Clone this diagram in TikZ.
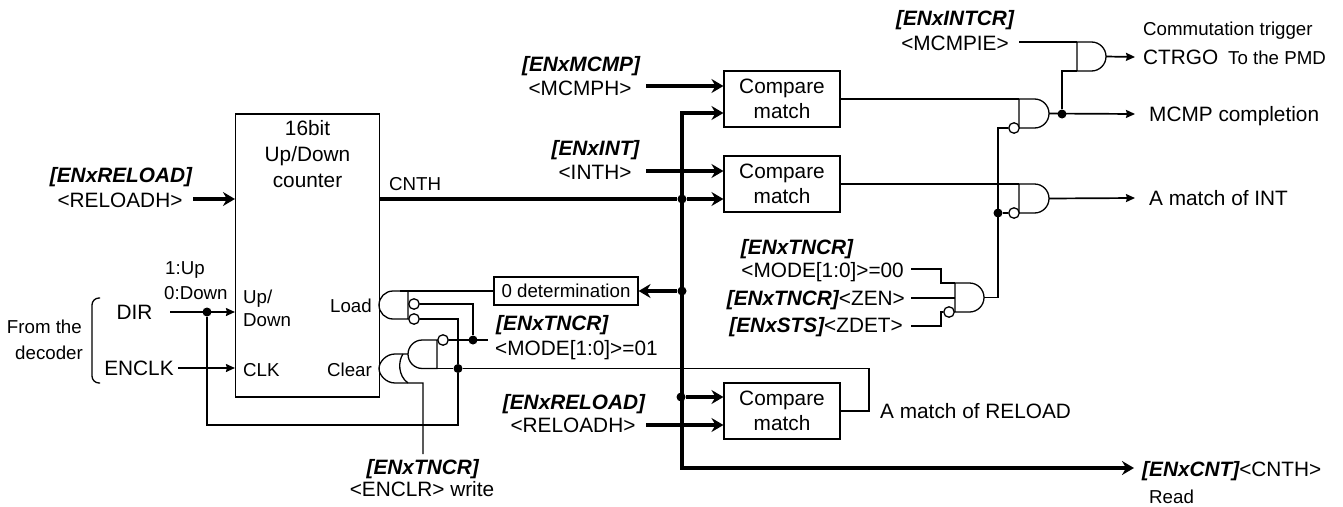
\documentclass[tikz,border=0pt]{standalone}
\usepackage{fontspec}
\setmainfont{Liberation Sans}
\usetikzlibrary{arrows.meta}
\newcommand{\fbig}{\fontsize{20.8}{25}\selectfont}
\newcommand{\fsm}{\fontsize{18.7}{22}\selectfont}
\newcommand{\bi}[1]{{\bfseries\itshape #1}}
% straight side x, top, bottom, nose x (right or left facing)
\newcommand{\andgate}[4]{%
  \pgfmathsetmacro{\gm}{(#2+#3)/2}\pgfmathsetmacro{\gr}{(#3-#2)/2}%
  \pgfmathsetmacro{\gd}{(#4>#1)?1:-1}%
  \pgfmathsetmacro{\gf}{#4-\gd*\gr}\pgfmathsetmacro{\gk}{#4-\gd*\gr*0.45}%
  \draw[gate] (#1,#2) -- (\gf,#2) .. controls (\gk,#2) and (#4,\gm-\gr*0.55) .. (#4,\gm)
     .. controls (#4,\gm+\gr*0.55) and (\gk,#3) .. (\gf,#3) -- (#1,#3) -- cycle;}
\tikzset{
 x=1pt,y=-1pt,
 gate/.style={line width=1.3pt},
 wire/.style={line width=1.3pt},
 wirem/.style={line width=1.7pt},
 bus/.style={line width=3.6pt},
 arr/.style={wirem,-{Stealth[length=9pt,width=8pt,inset=1pt]}},
 busarr/.style={bus,-{Stealth[length=12pt,width=14pt,inset=4pt]}},
 dot/.style={circle,fill=black,inner sep=0pt,minimum size=9pt},
 bub/.style={circle,draw,fill=white,line width=1.3pt,inner sep=0pt,minimum size=10.5pt},
 blk/.style={draw,line width=1.1pt,fill=white,inner sep=0pt,align=center},
 lbl/.style={inner sep=0pt,font=\fbig,text height=15pt,text depth=0pt},
 sm/.style={inner sep=0pt,font=\fsm,text height=13.4pt,text depth=0pt},
}
\begin{document}
\begin{tikzpicture}
\useasboundingbox (0,0) rectangle (1343,506);
% blocks
\node[blk,minimum width=144pt,minimum height=283pt] (cnt) at (307.5,255.5) {};
\node[blk,minimum width=116pt,minimum height=56pt,font=\fbig] (c1) at (782,99) {Compare\\match};
\node[blk,minimum width=116pt,minimum height=56pt,font=\fbig] (c2) at (782,184) {Compare\\match};
\node[blk,minimum width=116pt,minimum height=56pt,font=\fbig] (c3) at (782,411) {Compare\\match};
\node[blk,minimum width=144pt,minimum height=28pt,font=\fsm] (z) at (566,291) {0 determination};
% junctions
\node[dot] (jdir) at (207,312) {};
\node[dot] (jcnth) at (682,199) {};
\node[dot] (jz) at (682,291) {};
\node[dot] (jr) at (681,397) {};
\node[dot] (jm) at (473,340) {};
\node[dot] (jc) at (458,368.5) {};
\node[dot] (jo) at (1062,114) {};
\node[dot] (jq) at (998,213) {};
% free ends and corners
\coordinate (dirS) at (170,312);
\coordinate (encS) at (178,368);
\coordinate (relS) at (193,199);
\coordinate (mhS) at (646,86);
\coordinate (ihS) at (646,171);
\coordinate (rhS) at (646,425);
\coordinate (busT) at (682,113);
\coordinate (busB) at (682,468);
\coordinate (cntE) at (1134,468);
\coordinate (modeE) at (488,340);
\coordinate (wrE) at (423,454);
\coordinate (ieS) at (1019,42);
\coordinate (low) at (207,425);
\coordinate (rr) at (869,368.5);
\coordinate (mcE) at (1135,114);
\coordinate (ctE) at (1135,57);
\coordinate (intE) at (1135,198);
\coordinate (g1b) at (1077,71);
% gates' output / input points
\coordinate (o1) at (1106,56.5);
\coordinate (o2) at (1049,113.5);
\coordinate (o3) at (1049,198.5);
\coordinate (o4) at (984,297.5);
\coordinate (g2a) at (1019,99);
\coordinate (g3a) at (1019,184);
\coordinate (lt) at (400,291);
% gates
\andgate{1077}{42}{71}{1106}
\andgate{1019}{99}{128}{1049}
\andgate{1019}{184}{213}{1049}
\andgate{955}{283}{312}{984}
\andgate{408}{291}{319}{379}
\andgate{437}{340}{368.5}{408}
% OR gate
\draw[gate] (408,354) -- (395,354) .. controls (386,354) and (379,362) .. (379,368.5)
   .. controls (379,375) and (386,383) .. (395,383) -- (423,383) -- (wrE);
\draw[gate] (403,354) .. controls (398,361) and (398,376) .. (408,383);
% bubbles
\node[bub] (b2) at (1014,128) {};
\node[bub] (b3) at (1014,213) {};
\node[bub] (b4) at (949,312) {};
\node[bub] (b5) at (414,304) {};
\node[bub] (b6) at (414,319) {};
\node[bub] (b7) at (443,340) {};
% connectors
\draw[arr] (dirS) -- (dirS -| cnt.west);
\draw[arr] (encS) -- (encS -| cnt.west);
\draw[busarr] (relS) -- (relS -| cnt.west) ;
\draw[bus] (jcnth -| cnt.east) -- (jcnth);
\draw[busarr] (jcnth) -- (jcnth -| c2.west);
\draw[busarr] (mhS) -- (mhS -| c1.west);
\draw[busarr] (ihS) -- (ihS -| c2.west);
\draw[busarr] (rhS) -- (rhS -| c3.west);
\draw[busarr] (busB) -- (cntE);
\draw[bus,line join=miter,line cap=rect] (busB) -- (busT);
\draw[busarr] (busT) -- (busT -| c1.west);
\draw[busarr] (jz) -- (z.east);
\draw[busarr] (jr) -- (jr -| c3.west);
\draw[wire] (g2a -| c1.east) -- (g2a);
\draw[wire] (g3a -| c2.east) -- (g3a);
\draw[arr] (o2) -- (mcE);
\draw[arr] (o3) -- (intE);
\draw[arr] (o1) -- (ctE);
\draw[wirem] (jo) |- (g1b);
\draw[wire] (ieS) -- (1077,42);
\draw[wirem] (b2.west) -| (o4 -| jq) -- (o4);
\draw[wire] (jq) -- (b3.west);
\draw[wire] (lt) -- (z.west);
\draw[wirem] (b5.east) -| (jm);
\draw[wire] (b7.east) -- (modeE);
\draw[wirem] (b6.east) -| (jc);
\draw[wirem] (jc) |- (low) -- (jdir);
\draw[wirem] (437,368.5) -- (jc);
\draw[wire] (jc) -- (rr) |- (c3.east);
\coordinate (i1) at (911,269); \coordinate (i2) at (911,298); \coordinate (i3) at (911,326);
\draw[wire] (i1) -- (941,269) -- (941,283) -- (955,283);
\draw[wire] (i2) -- (955,298);
\draw[wire] (i3) -- (941,326) -- (941,312) -- (b4.west);
% brace
\draw[wire,rounded corners=7pt] (100,298) -- (92,298) -- (92,383) -- (100,383);
% counter text
\node[lbl] (t1) at (307.5,127.5) {16bit};
\node[lbl] (t2) at (307.5,153.5) {Up/Down};
\node[lbl] (t3) at (307.5,179.5) {counter};
\node[sm,anchor=west] (tcnth) at (389,184) {CNTH};
\node[sm,anchor=west] (tu) at (243,296.5) {Up/};
\node[sm,anchor=west] (td) at (243,319.5) {Down};
\node[sm,anchor=west] (tclk) at (243,370) {CLK};
\node[sm,anchor=east] (tload) at (372,306) {Load};
\node[sm,anchor=east] (tclear) at (372,370) {Clear};
% labels
\node[lbl] (l1a) at (121,175) {\bi{[ENxRELOAD]}};
\node[lbl] (l1b) at (120,200) {<RELOADH>};
\node[lbl] (l2a) at (581,64) {\bi{[ENxMCMP]}};
\node[lbl] (l2b) at (580,88) {<MCMPH>};
\node[lbl] (l3a) at (595.5,148) {\bi{[ENxINT]}};
\node[lbl] (l3b) at (595,172) {<INTH>};
\node[lbl] (l4a) at (574,402) {\bi{[ENxRELOAD]}};
\node[lbl] (l4b) at (573,425) {<RELOADH>};
\node[lbl,anchor=west] (l5a) at (496,323) {\bi{[ENxTNCR]}};
\node[lbl,anchor=west] (l5b) at (495,348) {<MODE[1:0]>=01};
\node[lbl] (l6a) at (422.7,466.7) {\bi{[ENxTNCR]}};
\node[lbl] (l6b) at (422,489) {<ENCLR> write};
\node[lbl] (l8) at (797,247) {\bi{[ENxTNCR]}};
\node[lbl,anchor=east] (l9) at (904,270) {<MODE[1:0]>=00};
\node[lbl,anchor=east] (l10) at (905,298) {\bi{[ENxTNCR]}<ZEN>};
\node[lbl,anchor=east] (l11) at (903,325) {\bi{[ENxSTS]}<ZDET>};
\node[lbl] (l12a) at (955,18) {\bi{[ENxINTCR]}};
\node[lbl] (l12b) at (955,43) {<MCMPIE>};
\node[sm,anchor=west] (s1) at (1143,29) {Commutation trigger};
\node[lbl,anchor=west] (ctr) at (1143,57) {CTRGO};
\node[sm,anchor=west] (pmd) at (1228,58) {To the PMD};
\node[lbl,anchor=west] (mc) at (1149,114) {MCMP completion};
\node[lbl,anchor=west] (ai) at (1149,198) {A match of INT};
\node[lbl,anchor=west] (ar) at (880,411) {A match of RELOAD};
\node[lbl,anchor=west] (cnt2) at (1142,469) {\bi{[ENxCNT]}<CNTH>};
\node[sm,anchor=west] (rd) at (1149,497) {Read};
\node[sm,anchor=west] (up) at (165,268) {1:Up};
\node[sm,anchor=west] (dn) at (164,293) {0:Down};
\node[sm,anchor=east] (fr) at (82,327) {From the};
\node[sm,anchor=east] (dc) at (83,353) {decoder};
\node[lbl] (dir) at (134.5,312) {DIR};
\node[lbl] (enc) at (139,368) {ENCLK};
\end{tikzpicture}
\end{document}
